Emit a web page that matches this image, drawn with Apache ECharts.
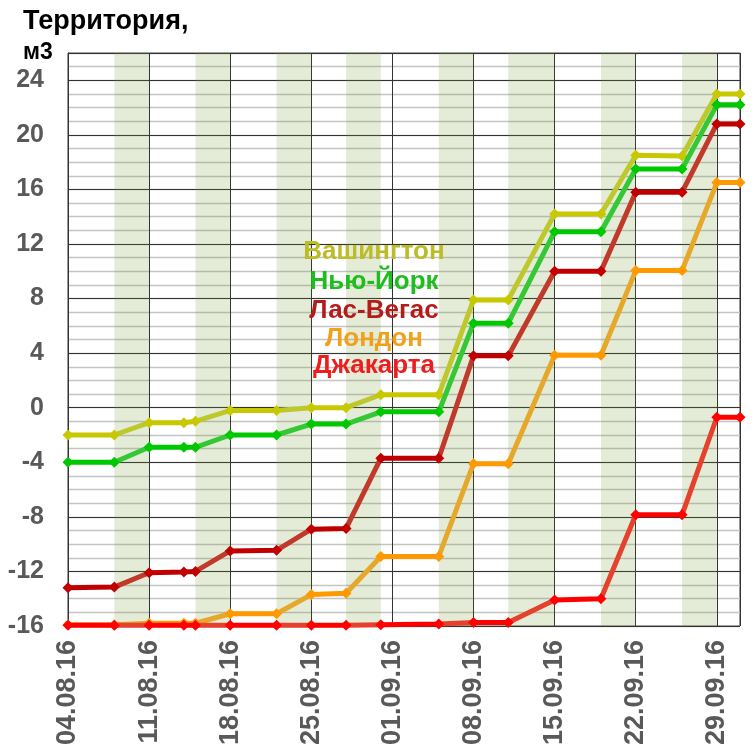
<!DOCTYPE html>
<html>
<head>
<meta charset="utf-8">
<script src="https://cdn.jsdelivr.net/npm/echarts@6/dist/echarts.min.js"></script>
<style>
  html, body { margin: 0; padding: 0; background: #fff; }
  #chart { width: 755px; height: 755px; }
</style>
</head>
<body>
<div id="chart"></div>
<script>
// measurement dates
const dates = ['04.08.16', '08.08.16', '11.08.16', '14.08.16', '15.08.16', '18.08.16', '22.08.16',
  '25.08.16', '28.08.16', '31.08.16', '05.09.16', '08.09.16', '11.09.16', '15.09.16', '19.09.16',
  '22.09.16', '26.09.16', '29.09.16', '01.10.16'];

const names = ['Вашингтон', 'Нью-Йорк', 'Лас-Вегас', 'Лондон', 'Джакарта'];

const washington = [-2, -2, -1.1, -1.1, -1.0, -0.2, -0.2, 0, 0, 0.95, 0.95, 7.9, 7.9, 14.2, 14.2, 18.5, 18.45, 23.0, 23.0];
const newYork = [-4, -4, -2.9, -2.9, -2.9, -2.0, -2.0, -1.2, -1.2, -0.3, -0.3, 6.2, 6.2, 12.9, 12.9, 17.5, 17.5, 22.2, 22.2];
const lasVegas = [-13.2, -13.15, -12.1, -12.05, -12.0, -10.5, -10.45, -8.9, -8.85, -3.7, -3.7, 3.8, 3.8, 10.0, 10.0, 15.8, 15.8, 20.8, 20.8];
const london = [-15.9, -15.9, -15.8, -15.8, -15.8, -15.1, -15.1, -13.7, -13.6, -10.9, -10.9, -4.1, -4.1, 3.85, 3.85, 10.05, 10.05, 16.5, 16.5];
const jakarta = [-15.95, -15.95, -15.95, -15.95, -15.95, -15.95, -15.95, -15.95, -15.95, -15.9, -15.85, -15.75, -15.75, -14.1, -14.0, -7.85, -7.85, -0.7, -0.7];

// shaded periods
const bands = [['08.08.16', '11.08.16'], ['15.08.16', '18.08.16'], ['22.08.16', '25.08.16'],
  ['28.08.16', '31.08.16'], ['05.09.16', '08.09.16'], ['11.09.16', '15.09.16'],
  ['19.09.16', '22.09.16'], ['26.09.16', '29.09.16']];

const yTicks = [-16, -12, -8, -4, 0, 4, 8, 12, 16, 20, 24];

const flatColors = ['#c8c800', '#00c800', '#c00000', '#ff9900', '#ff0000'];
const riseColors = ['#bec82c', '#34c834', '#c0392b', '#e6a82a', '#e5412d'];
const textColors = ['#bcbc26', '#1ebe1e', '#b41c1c', '#f2a01a', '#ec1e1e'];

const base = Date.UTC(2016, 7, 4);
function dayOf(s) {
  const p = s.split('.').map(Number);
  return (Date.UTC(2000 + p[2], p[1] - 1, p[0]) - base) / 864e5;
}
function dateLabel(v) {
  const d = new Date(base + v * 864e5);
  const pad = n => (n < 10 ? '0' : '') + n;
  return pad(d.getUTCDate()) + '.' + pad(d.getUTCMonth() + 1) + '.' + String(d.getUTCFullYear()).slice(2);
}

const days = dates.map(dayOf);
const allValues = [washington, newYork, lasVegas, london, jakarta];

const chart = echarts.init(document.getElementById('chart'));
const font = 'Liberation Sans, Arial, sans-serif';

const lineSeries = allValues.map((vals, i) => ({
  name: names[i],
  type: 'line',
  z: 3 + i,
  data: vals.map((v, j) => [days[j], v]),
  symbol: 'diamond',
  symbolSize: 11,
  lineStyle: { width: 5 },
  animation: false
}));

chart.setOption({
  animation: false,
  grid: { left: 68, right: 15, top: 53, bottom: 129, show: true, borderColor: '#333', borderWidth: 1 },
  xAxis: {
    type: 'value', min: 0, max: 58, interval: 7,
    axisLine: { show: true, lineStyle: { color: '#333', width: 1 } },
    axisTick: { show: false },
    splitLine: { show: true, lineStyle: { color: '#333', width: 1 } },
    axisLabel: {
      rotate: 90, margin: 14,
      color: '#595959', fontFamily: font, fontWeight: 'bold', fontSize: 27,
      formatter: v => (v % 7 === 0 ? dateLabel(v) : '')
    }
  },
  yAxis: [{
    type: 'value', min: -16, max: 26, interval: 1, position: 'left',
    axisLine: { show: false }, axisTick: { show: false }, axisLabel: { show: false },
    splitLine: { show: true, lineStyle: { color: '#c4c4c4', width: 1.4 } }
  }, {
    type: 'value', min: -16, max: 26, interval: 4, position: 'left',
    axisLine: { show: true, lineStyle: { color: '#333', width: 1 } },
    axisTick: { show: false },
    splitLine: { show: true, lineStyle: { color: '#333', width: 1 } },
    axisLabel: {
      margin: 24, color: '#595959', fontFamily: font, fontWeight: 'bold', fontSize: 25,
      formatter: v => (yTicks.indexOf(v) >= 0 ? String(v) : '')
    }
  }],
  visualMap: allValues.map((vals, i) => ({
    type: 'piecewise', show: false, seriesIndex: i + 1, dimension: 0,
    pieces: bands.map(b => ({ gt: dayOf(b[0]), lt: dayOf(b[1]), color: riseColors[i] })),
    outOfRange: { color: flatColors[i] }
  })),
  series: [{
    type: 'line', data: [], silent: true,
    markArea: {
      silent: true,
      itemStyle: { color: 'rgba(120,160,60,0.2)' },
      data: bands.map(b => [{ xAxis: dayOf(b[0]) }, { xAxis: dayOf(b[1]) }])
    }
  }].concat(lineSeries),
  graphic: [
    { type: 'text', left: 23, top: 8, style: { text: 'Территория,', fontFamily: font, fontWeight: 'bold', fontSize: 27, fill: '#000' } },
    { type: 'text', left: 23, top: 41, style: { text: 'м3', fontFamily: font, fontWeight: 'bold', fontSize: 23, fill: '#000' } }
  ].concat(names.map((n, i) => ({
    type: 'text', x: 374, y: [252, 282, 311, 339, 366][i], z: 20,
    style: {
      text: n, fontFamily: font, fontWeight: 'bold', fontSize: 26, fill: textColors[i],
      align: 'center', verticalAlign: 'middle'
    }
  })))
});
</script>
</body>
</html>
